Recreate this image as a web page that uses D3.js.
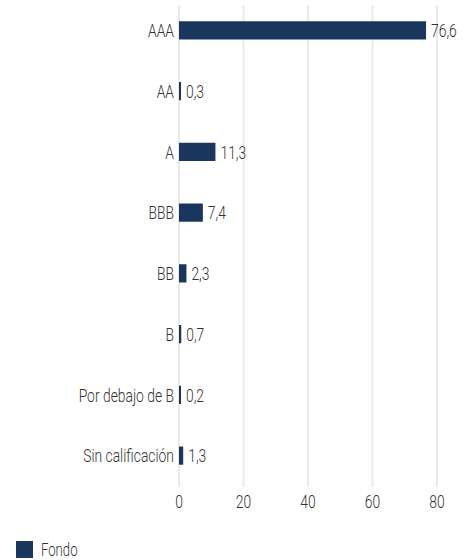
<!DOCTYPE html>
<html>
<head>
<meta charset="utf-8">
<script src="https://cdn.jsdelivr.net/npm/d3@7"></script>
<style>
    body { margin: 0; background: #fff; }
    text { font-family: Roboto, "Noto Sans", sans-serif; font-weight: 300; fill: #333; }
</style>
</head>
<body>
<div id="chart"></div>
<script>
    // data
    var categories = ['AAA', 'AA', 'A', 'BBB', 'BB', 'B', 'Por debajo de B', 'Sin calificación']
    var values = [76.6, 0.3, 11.3, 7.4, 2.3, 0.7, 0.2, 1.3]
    var ticks = [0, 20, 40, 60, 80]
    var seriesName = 'Fondo'

    var width = 475
    var height = 560
    var color = '#1b365d'
    var squeeze = 0.73   // narrow the font, the original uses a condensed face

    var svg = d3.select('#chart')
        .append('svg')
        .attr('width', width)
        .attr('height', height)

    var x = d3.scaleLinear()
        .domain([0, 80])
        .range([179, 437])

    var y = d3.scaleBand()
        .domain(categories)
        .range([0, 486])
        .paddingInner(0.7)
        .paddingOuter(0.35)

    function place(px, py) {
        return 'translate(' + px + ',' + py + ') scale(' + squeeze + ',1)'
    }

    // grid lines
    svg.selectAll('line.grid')
        .data(ticks)
        .enter()
        .append('line')
        .attr('class', 'grid')
        .attr('x1', function (d) { return x(d) })
        .attr('x2', function (d) { return x(d) })
        .attr('y1', 5)
        .attr('y2', 487)
        .attr('stroke', '#e9e9e9')
        .attr('stroke-width', 2)

    // tick labels
    svg.selectAll('text.tick')
        .data(ticks)
        .enter()
        .append('text')
        .attr('transform', function (d) { return place(x(d), 508) })
        .attr('text-anchor', 'middle')
        .style('font-size', '19px')
        .text(function (d) { return d })

    // bars
    svg.selectAll('rect.bar')
        .data(values)
        .enter()
        .append('rect')
        .attr('x', x(0))
        .attr('y', function (d, i) { return y(categories[i]) })
        .attr('width', function (d) { return Math.max(x(d) - x(0), 2) })
        .attr('height', y.bandwidth())
        .attr('fill', color)

    // category labels
    svg.selectAll('text.cat')
        .data(categories)
        .enter()
        .append('text')
        .attr('transform', function (d) { return place(x(0) - 5, y(d) + y.bandwidth() / 2) })
        .attr('dy', '0.36em')
        .attr('text-anchor', 'end')
        .style('font-size', '19px')
        .text(function (d) { return d })

    // value labels
    svg.selectAll('text.val')
        .data(values)
        .enter()
        .append('text')
        .attr('transform', function (d, i) {
            return place(x(0) + Math.max(x(d) - x(0), 2) + 5, y(categories[i]) + y.bandwidth() / 2)
        })
        .attr('dy', '0.36em')
        .style('font-size', '19px')
        .text(function (d) { return String(d).replace('.', ',') })

    // legend
    svg.append('rect')
        .attr('x', 16)
        .attr('y', 541)
        .attr('width', 17)
        .attr('height', 17)
        .attr('fill', color)
    svg.append('text')
        .attr('transform', place(41, 556))
        .style('font-size', '18px')
        .text(seriesName)
</script>
</body>
</html>
